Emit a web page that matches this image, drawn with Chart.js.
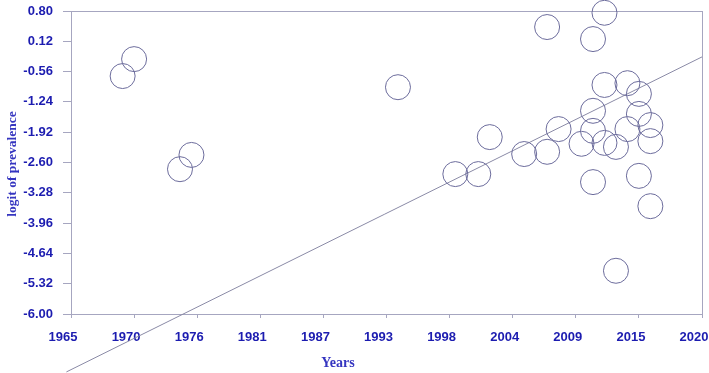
<!DOCTYPE html>
<html>
<head>
<meta charset="utf-8">
<script src="https://cdn.jsdelivr.net/npm/chart.js@4"></script>
<style>
  html, body { margin: 0; padding: 0; background: #fff; }
  #wrap { width: 709px; height: 373px; }
</style>
</head>
<body>
<div id="wrap"><canvas id="chart" width="709" height="373"></canvas></div>
<script>
// study year and logit of prevalence for each study
const studyYears = [
  1969.5, 1970.5, 1974.5, 1975.5, 1993.5, 2006.5, 2011.5, 2010.5, 2011.5, 2013.5,
  2014.5, 2010.5, 2014.5, 2015.5, 2013.5, 2010.5, 2007.5, 2001.5, 2009.5, 2011.5,
  2012.5, 2015.5, 2006.5, 2004.5, 1998.5, 2000.5, 2010.5, 2014.5, 2015.5, 2012.5
];
const logitValues = [
  -0.66, -0.28, -2.75, -2.43, -0.91, 0.44, 0.76, 0.17, -0.86, -0.82,
  -1.06, -1.44, -1.51, -1.76, -1.85, -1.89, -1.85, -2.03, -2.18, -2.16,
  -2.25, -2.12, -2.36, -2.41, -2.86, -2.86, -3.04, -2.90, -3.58, -5.03
];

// fitted regression line (start, end)
const fitYears = [1964.6, 2020];
const fitValues = [-7.30, -0.23];

// axis ticks
const xTickValues = [1965, 1970.5, 1976, 1981.5, 1987, 1992.5, 1998, 2003.5, 2009, 2014.5, 2020];
const xTickLabels = ['1965', '1970', '1976', '1981', '1987', '1993', '1998', '2004', '2009', '2015', '2020'];
const yTickValues = [0.80, 0.12, -0.56, -1.24, -1.92, -2.60, -3.28, -3.96, -4.64, -5.32, -6.00];

const tickColor = '#1c1cb0';
const titleColor = '#3535c0';
const frameColor = '#a6a6c0';

const frame = {
  id: 'frame',
  beforeDatasetsDraw(chart) {
    const a = chart.chartArea;
    const ctx = chart.ctx;
    ctx.save();
    ctx.strokeStyle = frameColor;
    ctx.lineWidth = 1;
    ctx.strokeRect(Math.round(a.left) + 0.5, Math.round(a.top) + 0.5,
      Math.round(a.right - a.left), Math.round(a.bottom - a.top));
    ctx.restore();
  },
  afterDraw(chart) {
    const a = chart.chartArea;
    const ctx = chart.ctx;
    ctx.save();
    ctx.fillStyle = titleColor;
    ctx.font = 'bold 14px "Liberation Serif", "Times New Roman", serif';
    ctx.textAlign = 'center';
    ctx.textBaseline = 'middle';
    ctx.fillText('Years', 338, 363);
    ctx.font = 'bold 13.5px "Liberation Serif", "Times New Roman", serif';
    ctx.translate(13, 164);
    ctx.rotate(-Math.PI / 2);
    ctx.fillText('logit of prevalence', 0, 0);
    ctx.restore();
  }
};

const points = studyYears.map((x, i) => ({ x, y: logitValues[i], r: 12.5 }));
const fitLine = fitYears.map((x, i) => ({ x, y: fitValues[i] }));

new Chart(document.getElementById('chart'), {
  type: 'bubble',
  data: {
    datasets: [
      {
        type: 'line',
        data: fitLine,
        borderColor: '#8a8aa6',
        borderWidth: 1,
        pointRadius: 0,
        fill: false,
        clip: false,
        order: 2
      },
      {
        data: points,
        backgroundColor: 'rgba(0,0,0,0)',
        borderColor: '#6c6c9c',
        borderWidth: 1,
        hoverRadius: 0,
        clip: false,
        order: 1
      }
    ]
  },
  options: {
    responsive: false,
    animation: false,
    events: [],
    layout: { autoPadding: false, padding: { top: 11, right: 7, left: 0, bottom: 0 } },
    plugins: { legend: { display: false }, tooltip: { enabled: false } },
    scales: {
      x: {
        type: 'linear',
        min: 1965,
        max: 2020,
        afterBuildTicks: (s) => { s.ticks = xTickValues.map(v => ({ value: v })); },
        afterFit: (s) => { s.height = 59; s.paddingLeft = 0; s.paddingRight = 0; },
        grid: { drawOnChartArea: false, drawTicks: true, tickLength: 4, color: frameColor },
        border: { display: true, color: frameColor },
        ticks: {
          autoSkip: false,
          maxRotation: 0,
          padding: 12,
          labelOffset: -8,
          color: tickColor,
          font: { family: '"Liberation Sans", Arial, sans-serif', size: 13, weight: 'bold' },
          callback: (v, i) => xTickLabels[i]
        }
      },
      y: {
        type: 'linear',
        min: -6.0,
        max: 0.8,
        afterBuildTicks: (s) => { s.ticks = yTickValues.map(v => ({ value: v })); },
        afterFit: (s) => { s.width = 71; s.paddingTop = 0; s.paddingBottom = 0; },
        grid: { drawOnChartArea: false, drawTicks: true, tickLength: 8, color: frameColor },
        border: { display: true, color: frameColor },
        ticks: {
          autoSkip: false,
          padding: 10,
          color: tickColor,
          font: { family: '"Liberation Sans", Arial, sans-serif', size: 13, weight: 'bold' },
          callback: (v) => Number(v).toFixed(2)
        }
      }
    }
  },
  plugins: [frame]
});
</script>
</body>
</html>
